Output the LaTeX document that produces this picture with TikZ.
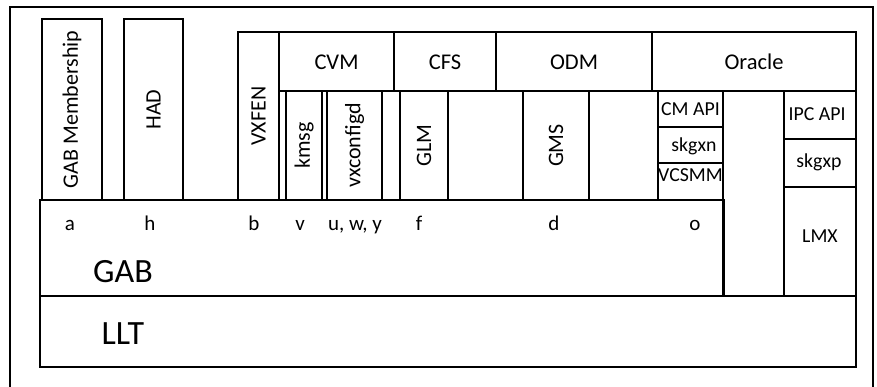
\documentclass[tikz,border=0pt]{standalone}
\usepackage{fontspec}
\setmainfont{Carlito}
\usetikzlibrary{fit}
\begin{document}
\begin{tikzpicture}[x=1pt,y=-1pt,
  blk/.style={draw, line width=1.2pt, inner sep=0pt, outer sep=0pt},
  hd/.style={font=\fontsize{22.5}{27}\selectfont, inner sep=0pt, anchor=base},
  vt/.style={font=\fontsize{22}{26}\selectfont, rotate=90, inner sep=0pt},
  sm/.style={font=\fontsize{19.8}{24}\selectfont, inner sep=0pt, anchor=base},
  lb/.style={font=\fontsize{21}{25}\selectfont, inner sep=0pt, anchor=base},
  big/.style={font=\fontsize{34}{40}\selectfont, inner sep=0pt, anchor=base}]
\useasboundingbox (0,0) rectangle (877,387);
\clip (0,0) rectangle (877,387);
% outer frame (bottom edge lies outside the picture)
\coordinate (fbl) at (10,400);
\coordinate (ftl) at (10,7);
\coordinate (ftr) at (873,7);
\coordinate (fbr) at (873,400);
\draw[line width=1.2pt] (fbl) -- (ftl) -- (ftr) -- (fbr);
% upper left boxes
\node[blk, fit={(42,19) (102,200)}] (gabm) {};
\node[vt] (gabmT) at (gabm.center) {GAB Membership};
\node[blk, fit={(124,19) (183,200)}] (had) {};
\node[vt] (hadT) at (had.center) {HAD};
\node[blk, fit={(238,32) (279,200)}] (vxfen) {};
\node[vt] (vxfenT) at (vxfen.center) {VXFEN};
% header row
\node[blk, fit={(279,32) (394,91)}] (cvm) {};
\node[hd] (cvmT) at (336.5,69.5) {CVM};
\node[blk, fit={(394,32) (496,91)}] (cfs) {};
\node[hd] (cfsT) at (445,69.5) {CFS};
\node[blk, fit={(496,32) (652,91)}] (odm) {};
\node[hd] (odmT) at (574,69.5) {ODM};
\node[blk, fit={(652,32) (856,91)}] (oracle) {};
\node[hd] (oracleT) at (754,69.5) {Oracle};
% columns under header
\node[blk, fit={(286,91) (322,200)}] (kmsg) {};
\node[vt] (kmsgT) at (kmsg.center) {kmsg};
\node[blk, fit={(327,91) (382,200)}] (vxc) {};
\node[vt] (vxcT) at (vxc.center) {vxconfigd};
\node[blk, fit={(400,91) (448,200)}] (glm) {};
\node[vt] (glmT) at (glm.center) {GLM};
\node[blk, fit={(523,91) (589,200)}] (gms) {};
\node[vt] (gmsT) at (gms.center) {GMS};
% Oracle stacks
\node[blk, fit={(658,91) (723,127)}] (cmapi) {};
\node[sm] (cmapiT) at (690.5,115.5) {CM API};
\node[blk, fit={(658,127) (723,163)}] (skgxn) {};
\node[sm] (skgxnT) at (694,152) {skgxn};
\node[blk, fit={(658,163) (723,200)}] (vcsmm) {};
\node[sm] (vcsmmT) at (690.5,181.5) {VCSMM};
\node[blk, fit={(723,91) (784,296)}] (gapcol) {};
\node[blk, fit={(784,91) (856,139)}] (ipcapi) {};
\node[sm] (ipcapiT) at (817,120.5) {IPC API};
\node[blk, fit={(784,139) (856,187)}] (skgxp) {};
\node[sm] (skgxpT) at (819,168) {skgxp};
\node[blk, fit={(784,187) (856,296)}] (lmx) {};
\node[sm] (lmxT) at (820,242) {LMX};
% GAB and LLT
\node[blk, fit={(40,200) (724,296)}] (gab) {};
\node[big] (gabT) at (123,282) {GAB};
\node[blk, fit={(40,296) (856,367)}] (llt) {};
\node[big] (lltT) at (123,344) {LLT};
% port letters
\node[lb] (pa) at (70,230) {a};
\node[lb] (ph) at (150,230) {h};
\node[lb] (pb) at (254,230) {b};
\node[lb] (pv) at (300,230) {v};
\node[lb] (puwy) at (355,230) {u, w, y};
\node[lb] (pf) at (419,230) {f};
\node[lb] (pd) at (554,230) {d};
\node[lb] (po) at (695,230) {o};
\end{tikzpicture}
\end{document}
